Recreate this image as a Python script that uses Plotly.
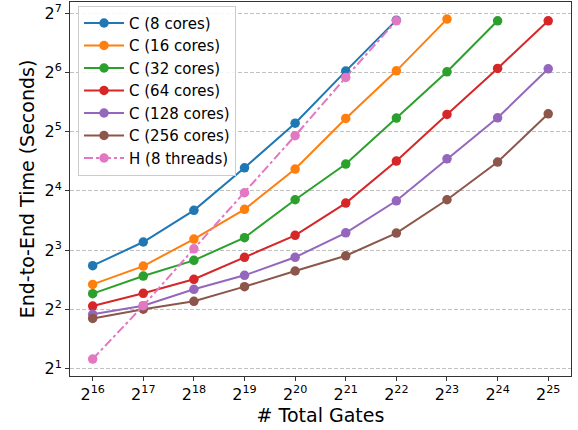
import plotly.graph_objects as go

gates = [2**16, 2**17, 2**18, 2**19, 2**20, 2**21, 2**22, 2**23, 2**24, 2**25]

c8 = [6.67, 8.80, 12.74, 20.96, 35.3, 64.9, 117.8]
c16 = [5.36, 6.64, 9.11, 12.89, 20.65, 37.3, 65.1, 119.2]
c32 = [4.81, 5.91, 7.10, 9.25, 14.42, 21.89, 37.5, 64.4, 116.9]
c64 = [4.16, 4.83, 5.69, 7.36, 9.51, 13.87, 22.68, 39.1, 67.0, 116.9]
c128 = [3.78, 4.18, 5.06, 5.96, 7.36, 9.80, 14.25, 23.28, 37.6, 66.7]
c256 = [3.60, 4.01, 4.40, 5.22, 6.27, 7.49, 9.77, 14.42, 22.41, 39.4]
h8 = [2.24, 4.18, 8.13, 15.65, 30.5, 60.3, 116.9]

series = [
    ("C (8 cores)", c8, "#1f77b4", "solid"),
    ("C (16 cores)", c16, "#ff7f0e", "solid"),
    ("C (32 cores)", c32, "#2ca02c", "solid"),
    ("C (64 cores)", c64, "#d62728", "solid"),
    ("C (128 cores)", c128, "#9467bd", "solid"),
    ("C (256 cores)", c256, "#8c564b", "solid"),
    ("H (8 threads)", h8, "#e377c2", "dashdot"),
]

x_exps = list(range(16, 26))
y_exps = list(range(1, 8))

fig = go.Figure()
for name, vals, color, dash in series:
    fig.add_trace(go.Scatter(
        x=gates[:len(vals)], y=vals, name=name, mode="lines+markers",
        line=dict(color=color, width=2, dash=dash),
        marker=dict(color=color, size=9.5),
    ))

L2 = 0.30103
fig.update_layout(
    width=578, height=430,
    margin=dict(l=70, r=7, t=2, b=54),
    paper_bgcolor="white", plot_bgcolor="white",
    font=dict(family="DejaVu Sans", size=15, color="black"),
    legend=dict(
        x=0.016, y=0.99, xanchor="left", yanchor="top",
        bgcolor="rgba(255,255,255,0.85)", bordercolor="#cccccc", borderwidth=1,
        font=dict(size=15), tracegroupgap=0, itemwidth=40,
    ),
    xaxis=dict(
        type="log", range=[15.552 * L2, 25.45 * L2],
        tickvals=[2**e for e in x_exps],
        ticktext=[f"2<sup>{e}</sup>" for e in x_exps],
        ticks="outside", ticklen=4, tickcolor="#333", tickwidth=1,
        showline=True, linecolor="#333", linewidth=1, mirror=True,
        showgrid=False, zeroline=False, automargin=False,
        title=dict(text="# Total Gates", font=dict(size=19), standoff=2),
        tickfont=dict(size=16),
    ),
    yaxis=dict(
        type="log", range=[0.877 * L2, 7.186 * L2],
        tickvals=[2**e for e in y_exps],
        ticktext=[f"2<sup>{e}</sup>" for e in y_exps],
        ticks="outside", ticklen=4, tickcolor="#333", tickwidth=1,
        showline=True, linecolor="#333", linewidth=1, mirror=True,
        showgrid=True, gridcolor="#c0c0c0", griddash="4px,2px", gridwidth=0.8,
        zeroline=False, automargin=False,
        title=dict(text="End-to-End Time (Seconds)", font=dict(size=19), standoff=4),
        tickfont=dict(size=16),
    ),
)

fig.write_html("out.html", config={"displayModeBar": False},
               post_script="document.body.style.margin='0';")
